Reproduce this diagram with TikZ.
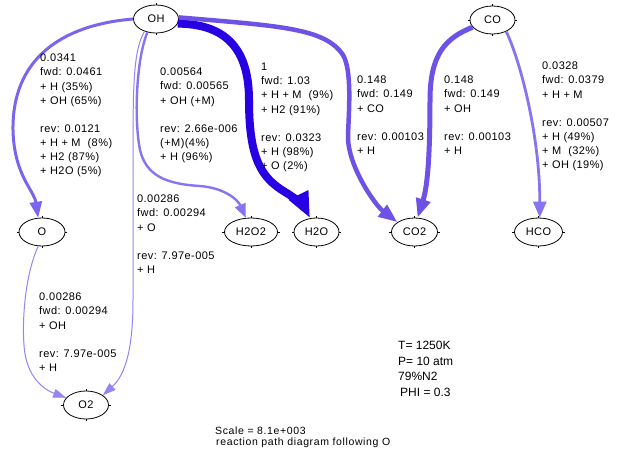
\documentclass[tikz,border=0pt]{standalone}
\usepackage{fontspec}
\setmainfont{Liberation Sans}
\newfontfamily\labelfont[LetterSpace=4]{Liberation Sans}
\newfontfamily\captionfont[LetterSpace=6]{Liberation Sans}
\usetikzlibrary{shapes.geometric,arrows.meta}

\definecolor{fluxstrong}{RGB}{40,0,228}
\definecolor{fluxmid}{RGB}{110,82,230}
\definecolor{fluxO}{RGB}{122,102,236}
\definecolor{fluxlight}{RGB}{136,116,240}
\definecolor{fluxthin}{RGB}{150,132,242}

\begin{document}
\begin{tikzpicture}[x=1pt,y=-1pt,
  species/.style={ellipse,draw=black,line width=0.8pt,inner sep=0pt,
    minimum width=45pt,minimum height=28pt,font=\labelfont\fontsize{11}{13}\selectfont},
  fluxlabel/.style={anchor=north west,inner sep=0pt,align=left,
    font=\labelfont\fontsize{11}{14.1}\selectfont},
  infotext/.style={anchor=north west,inner sep=0pt,align=left},
  fluxedge/.style={line join=round}
]
\useasboundingbox (0,0) rectangle (622,455);
\fill[white] (0,0) rectangle (622,455);

% species
\node[species] (OH)   at (156,19)    {OH};
\node[species] (CO)   at (492.5,20)  {CO};
\node[species,minimum width=46pt] (O)    at (42,232)    {O};
\node[species,minimum width=53pt] (H2O2) at (251,232)   {H2O2};
\node[species] (H2O)  at (316.5,232) {H2O};
\node[species,minimum width=46pt] (CO2)  at (414.5,232) {CO2};
\node[species,minimum width=48pt] (HCO)  at (538.5,232) {HCO};
\node[species] (O2)   at (86,405)    {O2};

% small ticks on the species outlines
\foreach \n in {OH,CO,O,H2O2,H2O,CO2,HCO,O2}{
  \draw[line width=0.8pt] (\n.north) -- ++(0,-1.8);
  \draw[line width=0.8pt] (\n.south) -- ++(0,1.8);
  \draw[line width=0.8pt] (\n.east) -- ++(1.8,0);
  \draw[line width=0.8pt] (\n.west) -- ++(-1.8,0);
}

% fluxes
\draw[fluxedge,draw=fluxO,line width=3pt,-{Triangle[length=16pt,width=12pt]}]
  (OH.west) .. controls (60,25) and (12,60) .. (13,130)
  .. controls (14,175) and (34,190) .. (O.105);

\draw[fluxedge,draw=fluxlight,line width=2.4pt,-{Triangle[length=14pt,width=11pt]}]
  (OH.-123) .. controls (136,60) and (134,120) .. (140,150)
  .. controls (146,175) and (165,184) .. (200,186)
  .. controls (225,188) and (238,200) .. (H2O2.110);

\draw[fluxedge,draw=fluxthin,line width=1pt,-{Triangle[length=13pt,width=9pt]}]
  (OH.-133) .. controls (134,50) and (133,80) .. (133,150) -- (133,300)
  .. controls (133,350) and (125,375) .. (O2.30);

\draw[fluxedge,draw=fluxthin,line width=1pt,-{Triangle[length=13pt,width=9pt]}]
  (O.-105) .. controls (25,275) and (22,320) .. (24,345)
  .. controls (26,378) and (45,390) .. (O2.160);

\draw[fluxedge,draw=fluxstrong,line width=8pt,-{Triangle[length=26pt,width=20pt]}]
  (OH.-12) .. controls (222,24) and (249,45) .. (249,100)
  .. controls (249,160) and (262,178) .. (285,192)
  .. controls (297,199) and (305,208) .. (H2O.115);

\draw[fluxedge,draw=fluxmid,line width=4.5pt,-{Triangle[length=19pt,width=14pt]}]
  (OH.4) .. controls (280,26) and (325,28) .. (343,55)
  .. controls (352,70) and (349,110) .. (348,135)
  .. controls (347,165) and (375,205) .. (CO2.150);

\draw[fluxedge,draw=fluxmid,line width=5pt,-{Triangle[length=19pt,width=14pt]}]
  (CO.200) .. controls (445,38) and (430,55) .. (430,100)
  .. controls (430,150) and (428,185) .. (CO2.78);

\draw[fluxedge,draw=fluxlight,line width=2.8pt,-{Triangle[length=16pt,width=13pt]}]
  (CO.-40) .. controls (522,65) and (540,140) .. (HCO.85);

% flux labels
\node[fluxlabel] (lblOHO) at (40,54) {0.0341\\fwd: 0.0461\\+ H (35\%)\\+ OH (65\%)\\[14.1pt]
  rev: 0.0121\\+ H + M\ \ (8\%)\\+ H2 (87\%)\\+ H2O (5\%)};
\node[fluxlabel] (lblOHH2O2) at (160,68) {0.00564\\fwd: 0.00565\\+ OH (+M)\\[14.1pt]
  rev: 2.66e-006\\(+M)(4\%)\\+ H (96\%)};
\node[fluxlabel] (lblOHH2O) at (261,63) {1\\fwd: 1.03\\+ H + M\ \ (9\%)\\+ H2 (91\%)\\[14.1pt]
  rev: 0.0323\\+ H (98\%)\\+ O (2\%)};
\node[fluxlabel] (lblOHCO2) at (357,76) {0.148\\fwd: 0.149\\+ CO\\[14.1pt]rev: 0.00103\\+ H};
\node[fluxlabel] (lblCOCO2) at (444,76) {0.148\\fwd: 0.149\\+ OH\\[14.1pt]rev: 0.00103\\+ H};
\node[fluxlabel] (lblCOHCO) at (542,62) {0.0328\\fwd: 0.0379\\+ H + M\\[14.1pt]
  rev: 0.00507\\+ H (49\%)\\+ M\ \ (32\%)\\+ OH (19\%)};
\node[fluxlabel] (lblOHO2) at (137,195) {0.00286\\fwd: 0.00294\\+ O\\[14.1pt]rev: 7.97e-005\\+ H};
\node[fluxlabel] (lblOO2) at (39,293) {0.00286\\fwd: 0.00294\\+ OH\\[14.1pt]rev: 7.97e-005\\+ H};

% conditions and caption
\node[infotext,font=\fontsize{12}{15.5}\selectfont] (cond) at (398,341)
  {T= 1250K\\P= 10 atm\\79\%N2\\\hspace{2pt}PHI = 0.3};
\node[infotext,font=\captionfont\fontsize{10.5}{10.5}\selectfont] (caption) at (215,427)
  {Scale = 8.1e+003\\\hspace{1pt}reaction path diagram following O};
\end{tikzpicture}
\end{document}
